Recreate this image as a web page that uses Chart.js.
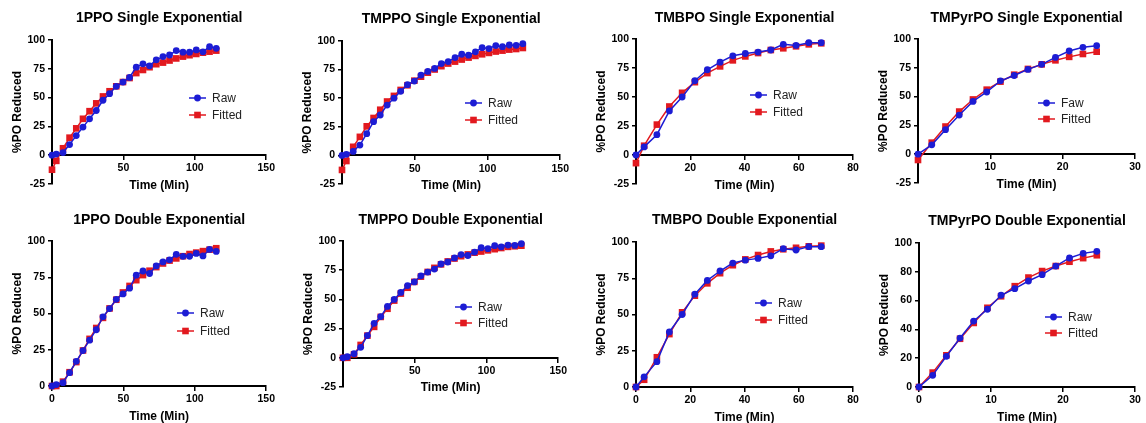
<!DOCTYPE html>
<html>
<head>
<meta charset="utf-8">
<script src="https://cdn.jsdelivr.net/npm/chart.js@4/dist/chart.umd.min.js"></script>
<style>
  html, body { margin: 0; padding: 0; background: #fff; }
  body { width: 1146px; height: 423px; overflow: hidden; position: relative; }
  canvas { position: absolute; }
</style>
</head>
<body>
<canvas id="c0"></canvas><canvas id="c1"></canvas><canvas id="c2"></canvas><canvas id="c3"></canvas>
<canvas id="c4"></canvas><canvas id="c5"></canvas><canvas id="c6"></canvas><canvas id="c7"></canvas>
<script>
// ---------------- DATA ----------------
const time1PPO = [0, 3, 7.7, 12.3, 17, 21.7, 26.3, 31, 35.7, 40.3, 45, 49.7, 54.3, 59, 63.7, 68.3, 73, 77.7, 82.3, 87, 91.7, 96.3, 101, 105.7, 110.3, 115];
const raw1PPO = [0, 1, 2.3, 9.2, 17, 24.4, 31.6, 38.8, 47.7, 53.4, 59.8, 63.5, 67.5, 76.4, 79.3, 77.6, 82.8, 85.6, 87, 90.8, 89.4, 89.4, 91.4, 89.7, 94.2, 92.8];
const fitSingle1PPO = [-12.6, -4.9, 6, 15.2, 23.3, 31.6, 38.2, 45, 51, 55.5, 59.8, 63.5, 67, 71.3, 74, 76.4, 79, 80.4, 82.2, 84, 85.6, 86.8, 87.9, 89, 89.9, 90.8];
const fitDouble1PPO = [0, 0, 3, 9.5, 16.5, 24.5, 32.5, 40, 47, 53.5, 59.5, 64.5, 69, 73, 76.5, 79.5, 82, 84.5, 86.5, 88, 89.5, 91, 92, 93, 94, 95];

const timeTMPPO = [0, 3, 7.7, 12.3, 17, 21.7, 26.3, 31, 35.7, 40.3, 45, 49.7, 54.3, 59, 63.7, 68.3, 73, 77.7, 82.3, 87, 91.7, 96.3, 101, 105.7, 110.3, 115, 119.7, 124.3];
const rawTMPPO = [0, 0.9, 3.5, 9, 19, 29.5, 35.3, 44, 50, 56, 61.8, 65, 70.2, 73.4, 76, 80.3, 82, 85.5, 88.4, 87.6, 90.5, 94.2, 93.4, 96, 95, 96.5, 96.2, 97.7];
const fitSingleTMPPO = [-12.7, -4.9, 7.5, 16.2, 25.4, 32.7, 39.9, 47.1, 52, 57.2, 61.3, 65.3, 68.8, 72.3, 75.1, 78, 80.3, 82, 83.8, 85.5, 87, 88.4, 89.6, 90.8, 91.6, 92.5, 93, 93.9];
const fitDoubleTMPPO = [0, 0, 3, 11, 19, 26.5, 35, 42, 49, 55, 60, 65, 69.5, 73.5, 77, 80, 82.5, 85, 87, 88.5, 90, 91, 92, 93, 94, 95, 95.5, 96];

const timeTMBPO = [0, 3, 7.7, 12.3, 17, 21.7, 26.3, 31, 35.7, 40.3, 45, 49.7, 54.3, 59, 63.7, 68.3];
const rawTMBPO = [0, 7, 17.5, 38, 50, 64, 73.5, 80, 85.5, 87.5, 88.7, 90.5, 95.4, 94.5, 96.8, 96.8];
const fitSingleTMBPO = [-7, 8, 26.2, 41.8, 53.6, 62.8, 70.6, 76.4, 81.6, 85, 87.9, 90.5, 92, 93.7, 95.4, 96.3];
const fitDoubleTMBPO = [0, 5, 20.5, 36.5, 51.5, 63, 71.5, 78.5, 84, 88, 91, 93.5, 95, 96, 97, 97.5];

const timeTMPyrPO = [0, 1.9, 3.8, 5.7, 7.6, 9.5, 11.4, 13.3, 15.2, 17.1, 19, 20.9, 22.8, 24.7];
const rawTMPyrPO = [0, 8.1, 21.3, 34, 45.8, 54, 63.7, 68.3, 73.6, 78, 84, 89.6, 92.8, 94.2];
const fitSingleTMPyrPO = [-5, 10, 24, 37, 47.5, 56, 63, 69, 74, 78, 81.5, 84.5, 87, 89];
const fitDoubleTMPyrPO = [0, 10, 22, 33.5, 44.5, 55, 63, 70, 76, 80.5, 84, 87, 89.5, 91.5];

// tick labels
const xTicks150 = [0, 50, 100, 150];
const xTicks80 = [0, 20, 40, 60, 80];
const xTicks30 = [0, 10, 20, 30];
const yTicksNeg = [-25, 0, 25, 50, 75, 100];
const yTicksPos = [0, 25, 50, 75, 100];
const yTicks20 = [0, 20, 40, 60, 80, 100];

const panelTitles = ['1PPO Single Exponential', 'TMPPO Single Exponential', 'TMBPO Single Exponential', 'TMPyrPO Single Exponential',
                     '1PPO Double Exponential', 'TMPPO Double Exponential', 'TMBPO Double Exponential', 'TMPyrPO Double Exponential'];
const rawLabels = ['Raw', 'Raw', 'Raw', 'Faw', 'Raw', 'Raw', 'Raw', 'Raw'];
const fitLabel = 'Fitted';
const xTitle = 'Time (Min)';
const yTitle = '%PO Reduced';

// ---------------- STYLE / LAYOUT ----------------
const FONT = "'Liberation Sans', Arial, sans-serif";
const BLUE = '#1c1cd4';
const RED = '#e2191f';
const WY = 52;
const PADR = 10;

const panels = [
  { t: time1PPO, raw: raw1PPO, fit: fitSingle1PPO, xt: xTicks150, yt: yTicksNeg, ax: 52, right: 268, top: 40, bottom: 184, cTop: 0, cH: 200, tc: 18.5, leg: { dx: 137, dy: [58, 75] } },
  { t: timeTMPPO, raw: rawTMPPO, fit: fitSingleTMPPO, xt: xTicks150, yt: yTicksNeg, ax: 342, right: 562, top: 41, bottom: 184, cTop: 0, cH: 200, tc: 19, leg: { dx: 123, dy: [62, 79] } },
  { t: timeTMBPO, raw: rawTMBPO, fit: fitSingleTMBPO, xt: xTicks80, yt: yTicksNeg, ax: 636, right: 853, top: 39, bottom: 184, cTop: 0, cH: 200, tc: 18, leg: { dx: 114, dy: [56, 73] } },
  { t: timeTMPyrPO, raw: rawTMPyrPO, fit: fitSingleTMPyrPO, xt: xTicks30, yt: yTicksNeg, ax: 918, right: 1135, top: 39, bottom: 183, cTop: 0, cH: 200, tc: 18, leg: { dx: 120, dy: [64, 80] } },
  { t: time1PPO, raw: raw1PPO, fit: fitDouble1PPO, xt: xTicks150, yt: yTicksPos, ax: 52, right: 268, top: 241, bottom: 386, cTop: 200, cH: 223, tc: 220, leg: { dx: 125, dy: [72, 90] } },
  { t: timeTMPPO, raw: rawTMPPO, fit: fitDoubleTMPPO, xt: xTicks150, yt: yTicksNeg, ax: 343, right: 560, top: 241, bottom: 387, cTop: 200, cH: 223, tc: 220, leg: { dx: 112, dy: [66, 82] } },
  { t: timeTMBPO, raw: rawTMBPO, fit: fitDoubleTMBPO, xt: xTicks80, yt: yTicksPos, ax: 636, right: 853, top: 242, bottom: 387, cTop: 200, cH: 223, tc: 220, leg: { dx: 119, dy: [61, 78] } },
  { t: timeTMPyrPO, raw: rawTMPyrPO, fit: fitDoubleTMPyrPO, xt: xTicks30, yt: yTicks20, ax: 919, right: 1135, top: 243, bottom: 387, cTop: 200, cH: 223, tc: 221.5, leg: { dx: 126, dy: [74, 90] } }
];

const inlineLegend = {
  id: 'inlineLegend',
  afterDatasetsDraw(chart, args, opts) {
    const { ctx, chartArea } = chart;
    ctx.save();
    chart.data.datasets.forEach((ds, i) => {
      const x0 = chartArea.left + opts.dx;
      const y = chartArea.top + opts.dy[i];
      ctx.strokeStyle = ds.borderColor;
      ctx.lineWidth = 1.5;
      ctx.beginPath(); ctx.moveTo(x0, y); ctx.lineTo(x0 + 17, y); ctx.stroke();
      ctx.fillStyle = ds.backgroundColor;
      const cx = x0 + 8.5;
      if (ds.pointStyle === 'rect') {
        ctx.fillRect(cx - 3.3, y - 3.3, 6.6, 6.6);
      } else {
        ctx.beginPath(); ctx.arc(cx, y, 3.4, 0, Math.PI * 2); ctx.fill();
      }
      ctx.fillStyle = '#222';
      ctx.font = '12px ' + FONT;
      ctx.textBaseline = 'middle';
      ctx.textAlign = 'left';
      ctx.fillText(ds.label, x0 + 23, y + 0.5);
    });
    ctx.restore();
  }
};

panels.forEach((p, idx) => {
  const cv = document.getElementById('c' + idx);
  const left = p.ax - WY;
  const width = p.right + PADR - left;
  cv.width = width; cv.height = p.cH;
  cv.style.left = left + 'px'; cv.style.top = p.cTop + 'px';
  cv.style.width = width + 'px'; cv.style.height = p.cH + 'px';
  const yMin = p.yt[0], yMax = p.yt[p.yt.length - 1];
  const xMin = p.xt[0], xMax = p.xt[p.xt.length - 1];
  const tickFont = { family: FONT, size: 10.5, weight: 'bold' };
  new Chart(cv.getContext('2d'), {
    type: 'line',
    data: {
      datasets: [
        { label: rawLabels[idx], data: p.t.map((x, i) => ({ x: x, y: p.raw[i] })), borderColor: BLUE, backgroundColor: BLUE,
          pointStyle: 'circle', pointRadius: 3.4, pointBorderWidth: 0, borderWidth: 1.5, order: 0, tension: 0, clip: false },
        { label: fitLabel, data: p.t.map((x, i) => ({ x: x, y: p.fit[i] })), borderColor: RED, backgroundColor: RED,
          pointStyle: 'rect', pointRadius: 4.7, pointBorderWidth: 0, borderWidth: 1.5, order: 1, tension: 0, clip: false }
      ]
    },
    options: {
      responsive: false, animation: false, events: [],
      layout: { padding: { left: 0, right: PADR, top: 0, bottom: p.cTop + p.cH - p.bottom } },
      plugins: {
        legend: { display: false },
        tooltip: { enabled: false },
        title: {
          display: true, text: panelTitles[idx], fullSize: false, color: '#000',
          font: { family: FONT, size: 14, weight: 'bold' },
          padding: { top: p.tc - p.cTop - 8.4, bottom: p.top - p.tc - 8.4 }
        },
        inlineLegend: p.leg
      },
      scales: {
        x: {
          type: 'linear', position: { y: 0 }, min: xMin, max: xMax,
          afterBuildTicks: s => { s.ticks = p.xt.map(v => ({ value: v })); },
          ticks: { color: '#000', font: tickFont, padding: 3, maxRotation: 0, autoSkip: false,
                   callback: v => (v === 0 && yMin < 0) ? '' : String(v) },
          grid: { display: true, drawOnChartArea: false, drawTicks: true, tickLength: 4, color: '#000', lineWidth: 1.5 },
          border: { display: true, color: '#000', width: 2 },
          title: { display: true, text: xTitle, color: '#000', font: { family: FONT, size: 12, weight: 'bold' }, padding: { top: 0.5, bottom: 0 } }
        },
        y: {
          type: 'linear', position: 'left', min: yMin, max: yMax,
          afterBuildTicks: s => { s.ticks = p.yt.map(v => ({ value: v })); },
          afterFit: s => { s.width = WY; },
          ticks: { color: '#000', font: tickFont, padding: 3, autoSkip: false },
          grid: { display: true, drawOnChartArea: false, drawTicks: true, tickLength: 4, color: '#000', lineWidth: 1.5 },
          border: { display: true, color: '#000', width: 2 },
          title: { display: true, text: yTitle, color: '#000', font: { family: FONT, size: 12, weight: 'bold' }, padding: { top: 10.5, bottom: 0 } }
        }
      }
    },
    plugins: [inlineLegend]
  });
});
</script>
</body>
</html>
